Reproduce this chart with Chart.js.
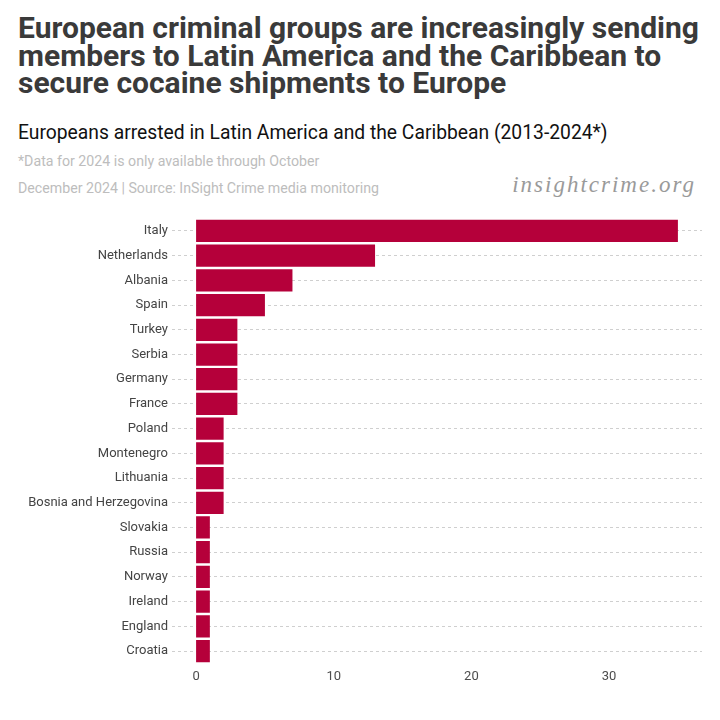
<!DOCTYPE html>
<html>
<head>
<meta charset="utf-8">
<script src="https://cdn.jsdelivr.net/npm/chart.js@4"></script>
<style>
  html, body { margin: 0; padding: 0; background: #fff; }
  #wrap { position: relative; width: 720px; height: 720px; overflow: hidden; }
  .t { position: absolute; white-space: nowrap; margin: 0; }
  #title { left: 18px; top: 14px; font-family: Roboto, sans-serif; font-weight: 700; font-size: 30px; line-height: 27.5px; color: #3a3a3a; }
  #title span { display: block; }
  #subtitle { left: 18px; top: 120.5px; font-family: Roboto, sans-serif; font-weight: 400; font-size: 19.3px; color: #111; }
  #note { left: 18px; top: 152.5px; font-family: Roboto, sans-serif; font-size: 14.2px; color: #bdbdbd; }
  #source { left: 18px; top: 179.5px; font-family: Roboto, sans-serif; font-size: 14.2px; color: #bdbdbd; }
  #brand { right: 24px; top: 172px; font-family: "Liberation Serif", "DejaVu Serif", serif; font-style: italic; font-size: 23px; letter-spacing: 2px; color: #9a9a9a; }
  canvas { position: absolute; left: 0; top: 0; }
</style>
</head>
<body>
<div id="wrap">
  <div class="t" id="title"><span>European criminal groups are increasingly sending</span><span>members to Latin America and the Caribbean to</span><span>secure cocaine shipments to Europe</span></div>
  <div class="t" id="subtitle">Europeans arrested in Latin America and the Caribbean (2013-2024*)</div>
  <div class="t" id="note">*Data for 2024 is only available through October</div>
  <div class="t" id="source">December 2024 | Source: InSight Crime media monitoring</div>
  <div class="t" id="brand">insightcrime.org</div>
  <canvas id="c" width="720" height="720"></canvas>
</div>
<script>
const countries = ["Italy","Netherlands","Albania","Spain","Turkey","Serbia","Germany","France","Poland","Montenegro","Lithuania","Bosnia and Herzegovina","Slovakia","Russia","Norway","Ireland","England","Croatia"];
const arrests = [35,13,7,5,3,3,3,3,2,2,2,2,1,1,1,1,1,1];
const xTickValues = [0,10,20,30];

const canvas = document.getElementById('c');
canvas.style.width = '720px';
canvas.style.height = '720px';

new Chart(canvas, {
  type: 'bar',
  data: {
    labels: countries,
    datasets: [{
      data: arrests,
      backgroundColor: '#b5003a',
      borderWidth: 0,
      barPercentage: 0.9,
      categoryPercentage: 1.0
    }]
  },
  options: {
    indexAxis: 'y',
    responsive: false,
    animation: false,
    devicePixelRatio: 1,
    layout: { padding: { top: 218.6, bottom: 31.6, left: 0, right: 18 } },
    plugins: { legend: { display: false }, tooltip: { enabled: false }, title: { display: false } },
    scales: {
      x: {
        type: 'linear',
        min: -1.75,
        max: 36.75,
        afterBuildTicks: (s) => { s.ticks = xTickValues.map(v => ({ value: v })); },
        afterFit: (s) => { s.height = 25; },
        grid: { display: false, drawTicks: false },
        border: { display: false },
        ticks: { padding: 6, color: '#4d4d4d', font: { family: 'Roboto', size: 13 } }
      },
      y: {
        type: 'category',
        offset: true,
        afterFit: (s) => { s.width = 172; },
        grid: { display: true, offset: false, drawTicks: false, color: '#cfcfcf', lineWidth: 1 },
        border: { display: false, dash: [3, 3] },
        ticks: { padding: 4, color: '#444444', font: { family: 'Roboto', size: 13 } }
      }
    }
  }
});
</script>
</body>
</html>
